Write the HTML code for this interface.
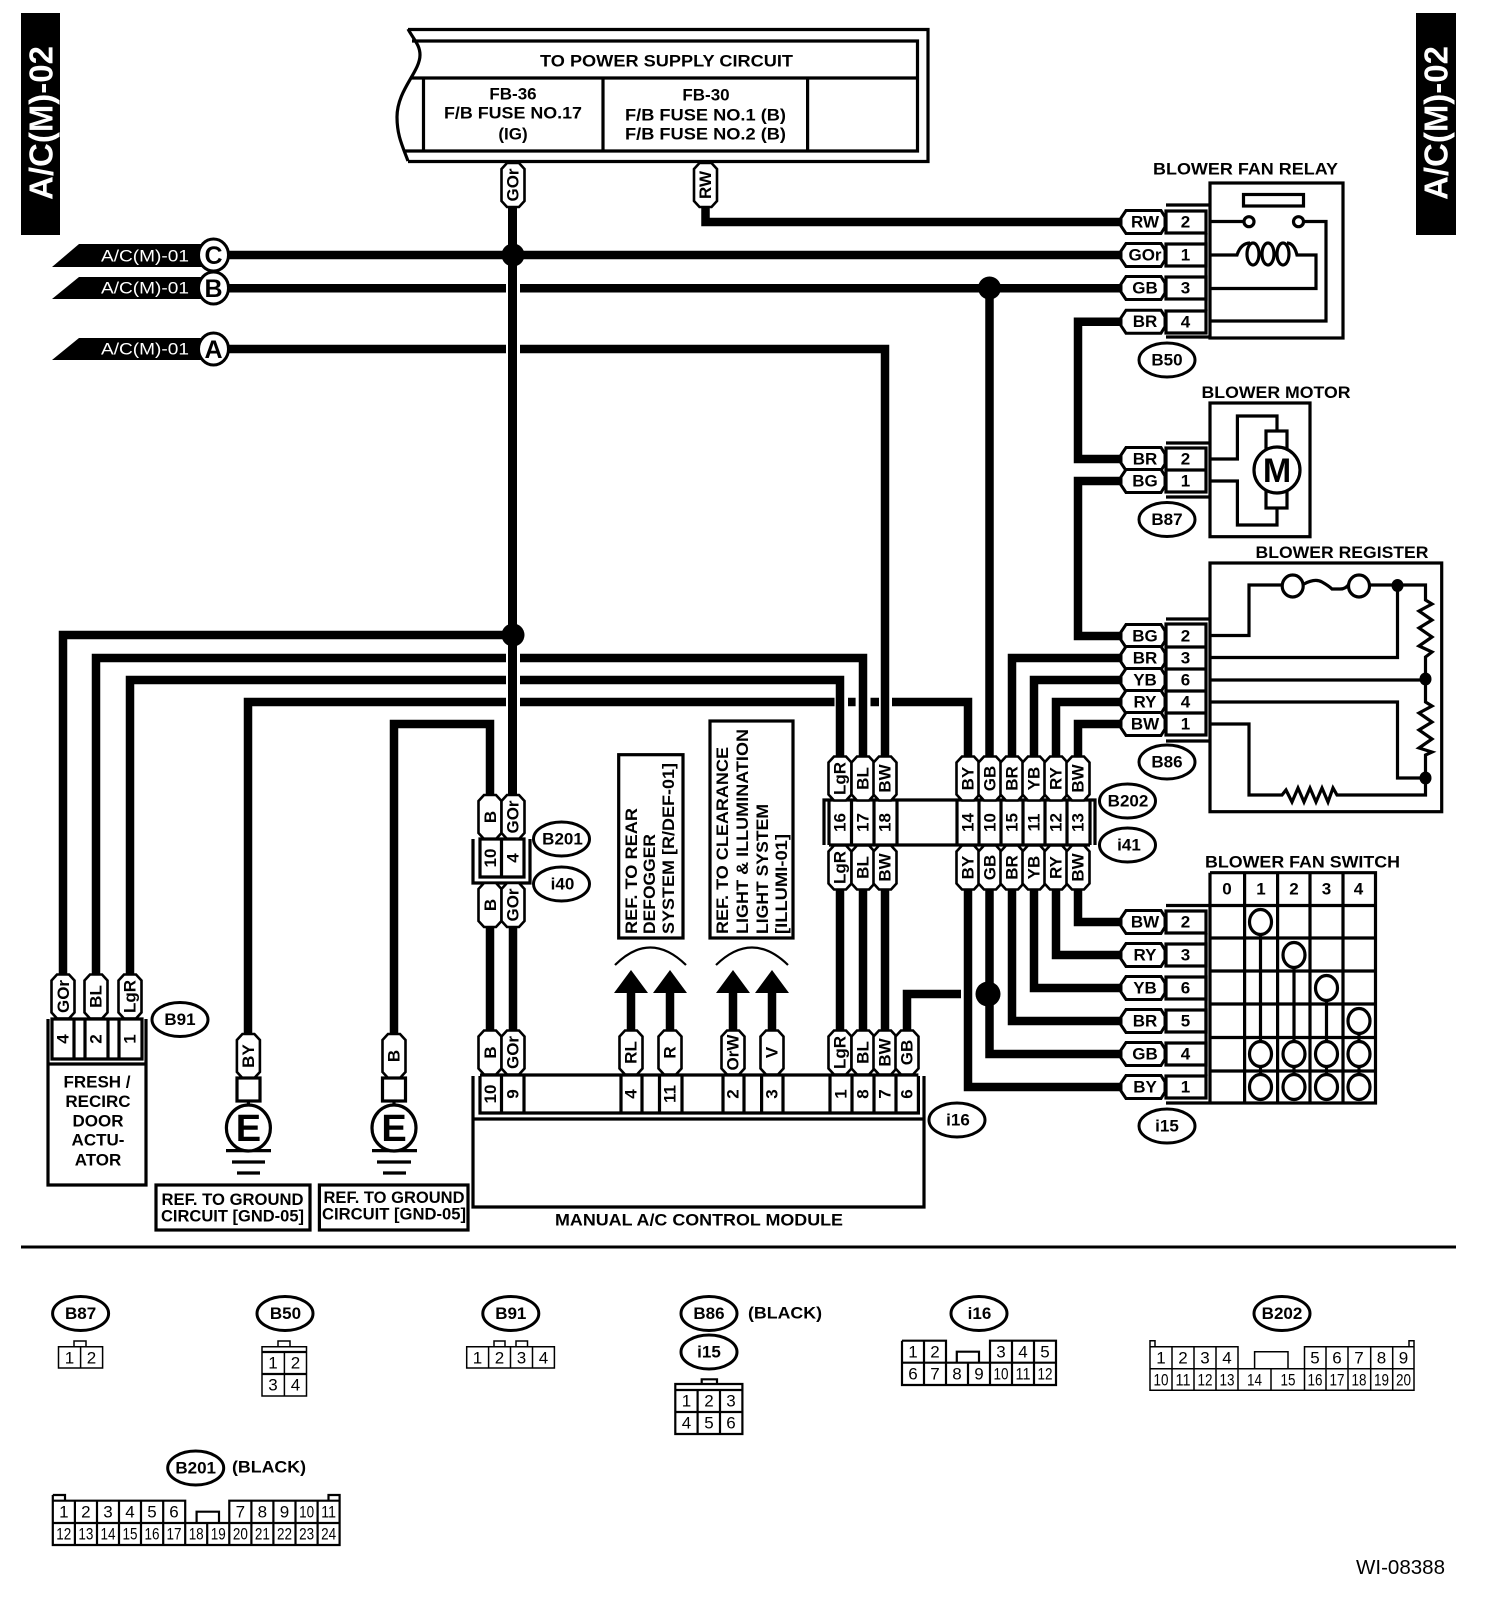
<!DOCTYPE html>
<html><head><meta charset="utf-8"><title>A/C(M)-02 wiring diagram</title>
<style>
html,body{margin:0;padding:0;background:#fff}
svg{display:block}
text{font-family:"Liberation Sans",sans-serif;fill:#000;font-size:17px}
.b{font-weight:bold}
.m{text-anchor:middle;dominant-baseline:central}
.w{fill:#fff}
.wire{fill:none;stroke:#000;stroke-width:8.5;stroke-linejoin:miter}
.l{fill:none;stroke:#000;stroke-width:3.2;stroke-linejoin:miter}
.t{fill:none;stroke:#000;stroke-width:1.5}
.g{fill:none;stroke:#000;stroke-width:2.2}
.f{fill:#fff;stroke:#000;stroke-width:3.2}
.ov{fill:#fff;stroke:#000;stroke-width:3}
.d{font-size:17px;font-weight:normal}
</style></head><body>
<svg width="1504" height="1610" viewBox="0 0 1504 1610" xmlns="http://www.w3.org/2000/svg">
<defs>
<path id="h" d="M-17-11.5H18L22-5V5L18 11.5H-17L-22 4V-4Z" fill="#fff" stroke="#000" stroke-width="3"/>
<path id="v" d="M-6-22H6L11.5-16V16L6 22H-6L-11.5 16V-16Z" fill="#fff" stroke="#000" stroke-width="2.6"/>
</defs>
<rect width="1504" height="1610" fill="#fff"/>

<!-- side bars -->
<rect x="21" y="13" width="39" height="222" fill="#000"/>
<rect x="1416" y="13" width="40" height="222" fill="#000"/>
<text class="b m w" style="font-size:33px" transform="translate(41,123) rotate(-90)" textLength="154" lengthAdjust="spacingAndGlyphs">A/C(M)-02</text>
<text class="b m w" style="font-size:33px" transform="translate(1436,123) rotate(-90)" textLength="154" lengthAdjust="spacingAndGlyphs">A/C(M)-02</text>

<!-- header box -->
<path class="l" d="M408 29.5H928V161.5H408"/>
<path class="l" d="M408 29C414 40 420 45 420 55C420 72 397 90 397 117C397 135 402 145 408 161"/>
<path class="l" d="M412 41H917.5V151H405M410 78H917.5M423.5 78V151M603 78V151M807.6 78V151"/>
<text class="b m" x="666.5" y="61" textLength="253" lengthAdjust="spacingAndGlyphs">TO POWER SUPPLY CIRCUIT</text>
<text class="b m" x="513" y="94">FB-36</text>
<text class="b m" x="513" y="113" textLength="138" lengthAdjust="spacingAndGlyphs">F/B FUSE NO.17</text>
<text class="b m" x="513" y="134">(IG)</text>
<text class="b m" x="706" y="95">FB-30</text>
<text class="b m" x="705.5" y="115" textLength="161" lengthAdjust="spacingAndGlyphs">F/B FUSE NO.1 (B)</text>
<text class="b m" x="705.5" y="134" textLength="161" lengthAdjust="spacingAndGlyphs">F/B FUSE NO.2 (B)</text>

<!-- wires -->
<path class="wire" d="M218 255H1121M218 288.3H506M520 288.3H1121M218 349H506M520 349H885V757"/>
<path class="wire" style="stroke-width:9" d="M512.5 207V795"/>
<path class="wire" d="M705.5 207V222H1121M989.5 288V757"/>
<path class="wire" d="M1121 321.7H1078V459H1121M1121 481H1078V636H1121M1121 658H1012V757M1121 680H1034V757M1121 702H1056V757M1121 724H1078V757"/>
<path class="wire" d="M513 635H63V974M506 658H96V974M520 658H863V757M506 680H130V974M520 680H840V757M506 702H248V1034M520 702H834.5M848 702H855.6M870.5 702H879M892 702H968V757"/>
<path class="wire" d="M394 1034V724H490V795M490 926V1031M513 926V1031"/>
<path class="wire" d="M840 890V1032M863 890V1032M885 890V1032M907 1032V994H961"/>
<path class="wire" d="M968 890V1087H1121M989.5 890V1054H1121M1012 890V1021H1121M1034 890V988H1121M1056 890V955H1121M1078 890V922H1121"/>
<path class="wire" d="M631 990V1031M670 990V1031M733 990V1031M772 990V1031"/>
<circle cx="513" cy="255" r="11.5"/><circle cx="513" cy="635" r="11.5"/><circle cx="989.5" cy="288" r="11.5"/><circle cx="988" cy="994" r="12.5"/>

<!-- arrows -->
<path d="M631 970L648 993H614Z"/><path d="M670 970L687 993H653Z"/><path d="M733 970L750 993H716Z"/><path d="M772 970L789 993H755Z"/>
<path class="g" d="M615 965Q650 930 686 965M716 965Q752 930 788 965"/>

<!-- off-page pointers -->
<path d="M52 267L79 244H205V267Z"/><path d="M52 299L79 277H205V299Z"/><path d="M52 360L79 338H205V360Z"/>
<text class="m w" x="145" y="256" textLength="88" lengthAdjust="spacingAndGlyphs">A/C(M)-01</text>
<text class="m w" x="145" y="288" textLength="88" lengthAdjust="spacingAndGlyphs">A/C(M)-01</text>
<text class="m w" x="145" y="349" textLength="88" lengthAdjust="spacingAndGlyphs">A/C(M)-01</text>
<ellipse class="ov" cx="213.5" cy="255" rx="15" ry="16"/><ellipse class="ov" cx="213.5" cy="288" rx="15" ry="16"/><ellipse class="ov" cx="213.5" cy="349" rx="15" ry="16"/>
<text class="b m" style="font-size:25px" x="213.5" y="256">C</text>
<text class="b m" style="font-size:25px" x="213.5" y="289">B</text>
<text class="b m" style="font-size:25px" x="213.5" y="350">A</text>

<!-- vertical tags upper -->
<use href="#v" x="513" y="185"/><text class="b m" transform="translate(513,185) rotate(-90)">GOr</text>
<use href="#v" x="705.5" y="185"/><text class="b m" transform="translate(705.5,185) rotate(-90)">RW</text>

<!-- blower fan relay -->
<text class="b m" x="1245.5" y="169" textLength="185" lengthAdjust="spacingAndGlyphs">BLOWER FAN RELAY</text>
<rect class="l" x="1210" y="183" width="133" height="155"/>
<path class="l" d="M1166 205H1210M1166 337H1210"/>
<rect class="f" x="1166" y="211" width="40" height="22"/><rect class="f" x="1166" y="244" width="40" height="22"/><rect class="f" x="1166" y="277" width="40" height="22"/><rect class="f" x="1166" y="311" width="40" height="22"/>
<path class="l" d="M1206 233V311"/>
<rect class="l" x="1243.5" y="194.5" width="60" height="11.5"/>
<path class="l" d="M1210 221.5H1244M1304 221.5H1326V321H1210M1210 255H1237Q1241 243 1250 243M1287 243Q1294 243 1297 255H1316V288.5H1210"/>
<circle class="f" cx="1249" cy="221.7" r="5"/><circle class="f" cx="1298.5" cy="221.7" r="5"/>
<ellipse class="l" cx="1253" cy="254" rx="6" ry="11"/><ellipse class="l" cx="1268" cy="254" rx="6" ry="11"/><ellipse class="l" cx="1283" cy="254" rx="6" ry="11"/>
<use href="#h" x="1143" y="222"/><text class="b m" x="1145" y="222">RW</text>
<use href="#h" x="1143" y="255"/><text class="b m" x="1145" y="255">GOr</text>
<use href="#h" x="1143" y="288"/><text class="b m" x="1145" y="288">GB</text>
<use href="#h" x="1143" y="321.7"/><text class="b m" x="1145" y="321.7">BR</text>
<text class="b m" x="1185.5" y="222">2</text><text class="b m" x="1185.5" y="255">1</text><text class="b m" x="1185.5" y="288">3</text><text class="b m" x="1185.5" y="322">4</text>
<ellipse class="ov" cx="1167" cy="360" rx="28" ry="17"/><text class="b m" x="1167" y="360">B50</text>

<!-- blower motor -->
<text class="b m" x="1276" y="392.7" textLength="149" lengthAdjust="spacingAndGlyphs">BLOWER MOTOR</text>
<rect class="l" x="1210" y="403" width="100" height="133.7"/>
<path class="l" d="M1166 443H1210M1166 497H1210"/>
<rect class="f" x="1166" y="448" width="40" height="44"/><path class="l" d="M1166 470H1206"/>
<path class="l" d="M1210 459H1237.4V416H1277V431M1210 481H1237.4V525H1277V508"/>
<rect class="f" x="1266" y="431" width="21" height="77"/>
<circle class="f" cx="1277" cy="470" r="23"/>
<text class="b m" style="font-size:34px" x="1277" y="471">M</text>
<use href="#h" x="1143" y="459"/><text class="b m" x="1145" y="459">BR</text>
<use href="#h" x="1143" y="481"/><text class="b m" x="1145" y="481">BG</text>
<text class="b m" x="1185.5" y="459">2</text><text class="b m" x="1185.5" y="481">1</text>
<ellipse class="ov" cx="1167" cy="519.5" rx="28" ry="17"/><text class="b m" x="1167" y="519.5">B87</text>

<!-- blower register -->
<text class="b m" x="1342" y="552.7" textLength="173" lengthAdjust="spacingAndGlyphs">BLOWER REGISTER</text>
<rect class="l" x="1210" y="563" width="231.7" height="248.7"/>
<path class="l" d="M1166 619H1210M1166 741H1210"/>
<rect class="f" x="1166" y="624" width="40" height="111"/>
<path class="l" d="M1166 647H1206M1166 669H1206M1166 691H1206M1166 713H1206"/>
<path class="l" d="M1210 635.5H1249V585H1282M1304 584Q1315 578 1322 582T1332 589H1340Q1346 589 1349 584M1370 585H1425.5V600L1432 604L1419 611L1432 620L1419 628L1432 637L1419 646L1432 652L1425.5 657V702L1432 706L1419 713L1432 722L1419 730L1432 739L1419 748L1432 752L1425.5 755V795H1337L1333 788L1328 802L1322 788L1316 802L1310 788L1304 802L1298 788L1292 802L1286 790L1282 795H1249V724H1210"/>
<path class="l" d="M1210 657.5H1397.5V586M1210 680H1425M1210 702H1397.5V778H1425"/>
<ellipse class="f" cx="1292.7" cy="586" rx="10.5" ry="11"/><ellipse class="f" cx="1359" cy="586" rx="10.5" ry="11"/>
<ellipse cx="1397.5" cy="585.5" rx="6" ry="6.5"/><ellipse cx="1425.5" cy="679" rx="6" ry="6.5"/><ellipse cx="1425.5" cy="778" rx="6" ry="6.5"/>
<use href="#h" x="1143" y="636"/><text class="b m" x="1145" y="636">BG</text>
<use href="#h" x="1143" y="658"/><text class="b m" x="1145" y="658">BR</text>
<use href="#h" x="1143" y="680"/><text class="b m" x="1145" y="680">YB</text>
<use href="#h" x="1143" y="702"/><text class="b m" x="1145" y="702">RY</text>
<use href="#h" x="1143" y="724"/><text class="b m" x="1145" y="724">BW</text>
<text class="b m" x="1185.5" y="636">2</text><text class="b m" x="1185.5" y="658">3</text><text class="b m" x="1185.5" y="680">6</text><text class="b m" x="1185.5" y="702">4</text><text class="b m" x="1185.5" y="724">1</text>
<ellipse class="ov" cx="1167" cy="762" rx="28" ry="17"/><text class="b m" x="1167" y="762">B86</text>

<!-- B202 / i41 -->
<path class="l" d="M824 845V800H1095V845M829 800V845M1090 800V845M829 845H1090"/>
<path class="l" d="M851.5 800V845M874 800V845M897 800V845M957 800V845M979 800V845M1001 800V845M1023 800V845M1045 800V845M1067 800V845"/>
<use href="#v" x="840" y="778.5"/><text class="b m" transform="translate(840,778.5) rotate(-90)">LgR</text>
<use href="#v" x="863" y="778.5"/><text class="b m" transform="translate(863,778.5) rotate(-90)">BL</text>
<use href="#v" x="885" y="778.5"/><text class="b m" transform="translate(885,778.5) rotate(-90)">BW</text>
<use href="#v" x="968" y="778.5"/><text class="b m" transform="translate(968,778.5) rotate(-90)">BY</text>
<use href="#v" x="990" y="778.5"/><text class="b m" transform="translate(990,778.5) rotate(-90)">GB</text>
<use href="#v" x="1012" y="778.5"/><text class="b m" transform="translate(1012,778.5) rotate(-90)">BR</text>
<use href="#v" x="1034" y="778.5"/><text class="b m" transform="translate(1034,778.5) rotate(-90)">YB</text>
<use href="#v" x="1056" y="778.5"/><text class="b m" transform="translate(1056,778.5) rotate(-90)">RY</text>
<use href="#v" x="1078" y="778.5"/><text class="b m" transform="translate(1078,778.5) rotate(-90)">BW</text>
<text class="b m" transform="translate(840,822.5) rotate(-90)">16</text>
<text class="b m" transform="translate(863,822.5) rotate(-90)">17</text>
<text class="b m" transform="translate(885,822.5) rotate(-90)">18</text>
<text class="b m" transform="translate(968,822.5) rotate(-90)">14</text>
<text class="b m" transform="translate(990,822.5) rotate(-90)">10</text>
<text class="b m" transform="translate(1012,822.5) rotate(-90)">15</text>
<text class="b m" transform="translate(1034,822.5) rotate(-90)">11</text>
<text class="b m" transform="translate(1056,822.5) rotate(-90)">12</text>
<text class="b m" transform="translate(1078,822.5) rotate(-90)">13</text>
<use href="#v" x="840" y="867.5"/><text class="b m" transform="translate(840,867.5) rotate(-90)">LgR</text>
<use href="#v" x="863" y="867.5"/><text class="b m" transform="translate(863,867.5) rotate(-90)">BL</text>
<use href="#v" x="885" y="867.5"/><text class="b m" transform="translate(885,867.5) rotate(-90)">BW</text>
<use href="#v" x="968" y="867.5"/><text class="b m" transform="translate(968,867.5) rotate(-90)">BY</text>
<use href="#v" x="990" y="867.5"/><text class="b m" transform="translate(990,867.5) rotate(-90)">GB</text>
<use href="#v" x="1012" y="867.5"/><text class="b m" transform="translate(1012,867.5) rotate(-90)">BR</text>
<use href="#v" x="1034" y="867.5"/><text class="b m" transform="translate(1034,867.5) rotate(-90)">YB</text>
<use href="#v" x="1056" y="867.5"/><text class="b m" transform="translate(1056,867.5) rotate(-90)">RY</text>
<use href="#v" x="1078" y="867.5"/><text class="b m" transform="translate(1078,867.5) rotate(-90)">BW</text>
<ellipse class="ov" cx="1127.5" cy="801" rx="28" ry="17"/><text class="b m" x="1128" y="801">B202</text>
<ellipse class="ov" cx="1127.5" cy="845" rx="28" ry="17"/><text class="b m" x="1129" y="845">i41</text>

<!-- blower fan switch -->
<text class="b m" x="1302.5" y="862" textLength="195" lengthAdjust="spacingAndGlyphs">BLOWER FAN SWITCH</text>
<path class="l" d="M1210 872.7H1375.5V1103H1166M1210 872.7V1103M1244.6 872.7V1103M1277.6 872.7V1103M1310 872.7V1103M1343 872.7V1103M1166 905.5H1375.5M1210 938H1375.5M1210 971H1375.5M1210 1004H1375.5M1210 1037.5H1375.5M1210 1071H1375.5"/>
<path class="l" d="M1260.5 922V1087M1294 955V1087M1326.5 988V1087M1359 1021V1087"/>
<text class="b m" x="1227" y="889">0</text><text class="b m" x="1261" y="889">1</text><text class="b m" x="1294" y="889">2</text><text class="b m" x="1326.5" y="889">3</text><text class="b m" x="1358.5" y="889">4</text>
<g class="f">
<ellipse cx="1260.5" cy="922" rx="11" ry="12.5"/><ellipse cx="1294" cy="955" rx="11" ry="12.5"/><ellipse cx="1326.5" cy="988" rx="11" ry="12.5"/><ellipse cx="1359" cy="1021" rx="11" ry="12.5"/>
<ellipse cx="1260.5" cy="1054" rx="11" ry="12.5"/><ellipse cx="1294" cy="1054" rx="11" ry="12.5"/><ellipse cx="1326.5" cy="1054" rx="11" ry="12.5"/><ellipse cx="1359" cy="1054" rx="11" ry="12.5"/>
<ellipse cx="1260.5" cy="1087" rx="11" ry="12.5"/><ellipse cx="1294" cy="1087" rx="11" ry="12.5"/><ellipse cx="1326.5" cy="1087" rx="11" ry="12.5"/><ellipse cx="1359" cy="1087" rx="11" ry="12.5"/>
</g>
<rect class="f" x="1166" y="911" width="40" height="22"/><rect class="f" x="1166" y="944" width="40" height="22"/><rect class="f" x="1166" y="977" width="40" height="22"/><rect class="f" x="1166" y="1010" width="40" height="22"/><rect class="f" x="1166" y="1043" width="40" height="22"/><rect class="f" x="1166" y="1076" width="40" height="22"/>
<path class="l" d="M1206 933V1076"/>
<use href="#h" x="1143" y="922"/><text class="b m" x="1145" y="922">BW</text>
<use href="#h" x="1143" y="955"/><text class="b m" x="1145" y="955">RY</text>
<use href="#h" x="1143" y="988"/><text class="b m" x="1145" y="988">YB</text>
<use href="#h" x="1143" y="1021"/><text class="b m" x="1145" y="1021">BR</text>
<use href="#h" x="1143" y="1054"/><text class="b m" x="1145" y="1054">GB</text>
<use href="#h" x="1143" y="1087"/><text class="b m" x="1145" y="1087">BY</text>
<text class="b m" x="1185.5" y="922">2</text><text class="b m" x="1185.5" y="955">3</text><text class="b m" x="1185.5" y="988">6</text><text class="b m" x="1185.5" y="1021">5</text><text class="b m" x="1185.5" y="1054">4</text><text class="b m" x="1185.5" y="1087">1</text>
<ellipse class="ov" cx="1167" cy="1126" rx="28" ry="17"/><text class="b m" x="1167" y="1126">i15</text>

<!-- B91 actuator -->
<use href="#v" x="63" y="996.5"/><text class="b m" transform="translate(63.5,996.5) rotate(-90)">GOr</text>
<use href="#v" x="96" y="996.5"/><text class="b m" transform="translate(96,996.5) rotate(-90)">BL</text>
<use href="#v" x="130" y="996.5"/><text class="b m" transform="translate(130,996.5) rotate(-90)">LgR</text>
<path class="l" d="M48 1019V1185H146V1019M48 1064H146M52 1019H142V1059H52ZM74 1019V1059M85 1019V1059M108 1019V1059M119 1019V1059"/>
<text class="b m" transform="translate(63,1039) rotate(-90)">4</text><text class="b m" transform="translate(96,1039) rotate(-90)">2</text><text class="b m" transform="translate(130,1039) rotate(-90)">1</text>
<ellipse class="ov" cx="180" cy="1019.5" rx="28" ry="17"/><text class="b m" x="180" y="1019.5">B91</text>
<text class="b m" x="97" y="1082">FRESH /</text><text class="b m" x="98" y="1101.6">RECIRC</text><text class="b m" x="98" y="1121">DOOR</text><text class="b m" x="98" y="1140">ACTU-</text><text class="b m" x="98" y="1160">ATOR</text>

<!-- grounds -->
<use href="#v" x="248.4" y="1056"/><text class="b m" transform="translate(248.4,1056) rotate(-90)">BY</text>
<rect class="f" x="237" y="1078" width="23" height="23"/>
<path class="l" d="M248.4 1101V1110M226 1150.6H271M232 1162H265M237 1173H260"/>
<ellipse class="f" cx="248.4" cy="1128" rx="22" ry="23"/>
<text class="b m" style="font-size:38px" x="248.4" y="1129">E</text>
<use href="#v" x="394" y="1056"/><text class="b m" transform="translate(394,1056) rotate(-90)">B</text>
<rect class="f" x="382.5" y="1078" width="23" height="23"/>
<path class="l" d="M394 1101V1110M372 1150.6H417M377 1162H411M383 1173H406"/>
<ellipse class="f" cx="394" cy="1128" rx="22" ry="23"/>
<text class="b m" style="font-size:38px" x="394" y="1129">E</text>
<rect class="l" x="156" y="1185" width="154" height="45"/>
<text class="b m" x="232.5" y="1199.6" textLength="142" lengthAdjust="spacingAndGlyphs">REF. TO GROUND</text>
<text class="b m" x="232.5" y="1216" textLength="143" lengthAdjust="spacingAndGlyphs">CIRCUIT [GND-05]</text>
<rect class="l" x="319.4" y="1185" width="148.6" height="45"/>
<text class="b m" x="394" y="1197.6" textLength="141" lengthAdjust="spacingAndGlyphs">REF. TO GROUND</text>
<text class="b m" x="394" y="1214" textLength="144" lengthAdjust="spacingAndGlyphs">CIRCUIT [GND-05]</text>

<!-- B201 / i40 -->
<use href="#v" x="490" y="817"/><text class="b m" transform="translate(490.5,817) rotate(-90)">B</text>
<use href="#v" x="513" y="817"/><text class="b m" transform="translate(513,817) rotate(-90)">GOr</text>
<path class="l" d="M473 839V883H530V839M480 839H524V877H480ZM501.5 839V877"/>
<text class="b m" transform="translate(490.5,858) rotate(-90)">10</text><text class="b m" transform="translate(513,858) rotate(-90)">4</text>
<use href="#v" x="490" y="905"/><text class="b m" transform="translate(490.5,905) rotate(-90)">B</text>
<use href="#v" x="513" y="905"/><text class="b m" transform="translate(513,905) rotate(-90)">GOr</text>
<ellipse class="ov" cx="561.5" cy="839" rx="28" ry="17"/><text class="b m" x="562.5" y="839">B201</text>
<ellipse class="ov" cx="561.5" cy="884" rx="28" ry="17"/><text class="b m" x="562.5" y="884">i40</text>

<!-- REF boxes -->
<rect class="l" x="618.7" y="754.7" width="64.3" height="183.3"/>
<text class="b" transform="translate(637,934) rotate(-90)" textLength="126" lengthAdjust="spacingAndGlyphs">REF. TO REAR</text>
<text class="b" transform="translate(655,934) rotate(-90)" textLength="100" lengthAdjust="spacingAndGlyphs">DEFOGGER</text>
<text class="b" transform="translate(674,934) rotate(-90)" textLength="171" lengthAdjust="spacingAndGlyphs">SYSTEM [R/DEF-01]</text>
<rect class="l" x="710" y="721" width="83" height="217"/>
<text class="b" transform="translate(728,934) rotate(-90)" textLength="187" lengthAdjust="spacingAndGlyphs">REF. TO CLEARANCE</text>
<text class="b" transform="translate(748,934) rotate(-90)" textLength="205" lengthAdjust="spacingAndGlyphs">LIGHT &amp; ILLUMINATION</text>
<text class="b" transform="translate(768,934) rotate(-90)" textLength="130" lengthAdjust="spacingAndGlyphs">LIGHT SYSTEM</text>
<text class="b" transform="translate(787,934) rotate(-90)" textLength="100" lengthAdjust="spacingAndGlyphs">[ILLUMI-01]</text>

<!-- control module -->
<path class="l" d="M473 1076V1207H924V1076M473 1119H924M480 1076V1113H918.4V1076M480 1075H918.4"/>
<path class="l" d="M501.5 1076V1113M524 1076V1113M621 1076V1113M642 1076V1113M659.5 1076V1113M682 1076V1113M723 1076V1113M744 1076V1113M761.6 1076V1113M783 1076V1113M830 1076V1113M852 1076V1113M874 1076V1113M896 1076V1113"/>
<use href="#v" x="490" y="1052.5"/><text class="b m" transform="translate(490.5,1052.5) rotate(-90)">B</text>
<use href="#v" x="513" y="1052.5"/><text class="b m" transform="translate(513,1052.5) rotate(-90)">GOr</text>
<use href="#v" x="631" y="1052.5"/><text class="b m" transform="translate(631,1052.5) rotate(-90)">RL</text>
<use href="#v" x="670" y="1052.5"/><text class="b m" transform="translate(670,1052.5) rotate(-90)">R</text>
<use href="#v" x="733" y="1052.5"/><text class="b m" transform="translate(733,1052.5) rotate(-90)">OrW</text>
<use href="#v" x="772" y="1052.5"/><text class="b m" transform="translate(772,1052.5) rotate(-90)">V</text>
<use href="#v" x="840" y="1052.5"/><text class="b m" transform="translate(840,1052.5) rotate(-90)">LgR</text>
<use href="#v" x="863" y="1052.5"/><text class="b m" transform="translate(863,1052.5) rotate(-90)">BL</text>
<use href="#v" x="885" y="1052.5"/><text class="b m" transform="translate(885,1052.5) rotate(-90)">BW</text>
<use href="#v" x="907" y="1052.5"/><text class="b m" transform="translate(907,1052.5) rotate(-90)">GB</text>
<text class="b m" transform="translate(490.5,1094) rotate(-90)">10</text>
<text class="b m" transform="translate(513,1094) rotate(-90)">9</text>
<text class="b m" transform="translate(631,1094) rotate(-90)">4</text>
<text class="b m" transform="translate(670,1094) rotate(-90)">11</text>
<text class="b m" transform="translate(733,1094) rotate(-90)">2</text>
<text class="b m" transform="translate(772,1094) rotate(-90)">3</text>
<text class="b m" transform="translate(841,1094) rotate(-90)">1</text>
<text class="b m" transform="translate(863,1094) rotate(-90)">8</text>
<text class="b m" transform="translate(885,1094) rotate(-90)">7</text>
<text class="b m" transform="translate(907,1094) rotate(-90)">6</text>
<ellipse class="ov" cx="957" cy="1120" rx="28" ry="17"/><text class="b m" x="958" y="1120">i16</text>
<text class="b m" x="699" y="1220" textLength="288" lengthAdjust="spacingAndGlyphs">MANUAL A/C CONTROL MODULE</text>

<rect x="21" y="1245.5" width="1435" height="3"/>

<!-- bottom connector views -->
<ellipse class="ov" cx="80.6" cy="1313.5" rx="28" ry="17"/><text class="b m" x="80.6" y="1313.5">B87</text>
<path class="t" d="M58.5 1346.7H102.6V1368H58.5ZM80.6 1346.7V1368M74 1346.7V1341H86V1346.7"/>
<text class="d m" x="69.5" y="1358">1</text><text class="d m" x="91.5" y="1358">2</text>

<ellipse class="ov" cx="285" cy="1313.5" rx="28" ry="17"/><text class="b m" x="285.5" y="1313.5">B50</text>
<path class="t" d="M262 1346.7H306.5V1396H262ZM278 1346.7V1341H290V1346.7M284.4 1352V1396"/>
<path class="g" d="M262 1352H306.5M262 1374H306.5"/>
<text class="d m" x="273" y="1363">1</text><text class="d m" x="295.5" y="1363">2</text><text class="d m" x="273" y="1385">3</text><text class="d m" x="295.5" y="1385">4</text>

<ellipse class="ov" cx="510.8" cy="1313.5" rx="28" ry="17"/><text class="b m" x="510.8" y="1313.5">B91</text>
<path class="t" d="M466.7 1346.7H554.4V1368H466.7ZM488.6 1346.7V1368M510.5 1346.7V1368M532.5 1346.7V1368M494 1346.7V1341H505V1346.7M516 1346.7V1341H527.5V1346.7"/>
<text class="d m" x="477.5" y="1358">1</text><text class="d m" x="499.5" y="1358">2</text><text class="d m" x="521.5" y="1358">3</text><text class="d m" x="543.5" y="1358">4</text>

<ellipse class="ov" cx="709" cy="1313.5" rx="28" ry="17"/><text class="b m" x="709" y="1313.5">B86</text>
<text class="b m" x="785" y="1313" textLength="74" lengthAdjust="spacingAndGlyphs">(BLACK)</text>
<ellipse class="ov" cx="709" cy="1352" rx="28" ry="17"/><text class="b m" x="709" y="1352">i15</text>
<path class="g" d="M675.3 1384H742.4V1434H675.3ZM675.3 1390H742.4M675.3 1412H742.4M697.6 1390V1434M720 1390V1434M701.7 1384V1379.3H717V1384"/>
<text class="d m" x="686.5" y="1401">1</text><text class="d m" x="709" y="1401">2</text><text class="d m" x="731" y="1401">3</text><text class="d m" x="686.5" y="1423">4</text><text class="d m" x="709" y="1423">5</text><text class="d m" x="731" y="1423">6</text>

<ellipse class="ov" cx="195.7" cy="1468" rx="28" ry="17"/><text class="b m" x="195.7" y="1468">B201</text>
<text class="b m" x="269" y="1467" textLength="74" lengthAdjust="spacingAndGlyphs">(BLACK)</text>
<path class="g" d="M52.8 1495H65V1500.7M328.5 1500.7V1495H339.6V1545H52.8V1495M52.8 1500.7H185.2V1523M229.3 1523V1500.7H339.6M52.8 1523H339.6M196.6 1523V1511.7H219V1523"/>
<path class="g" d="M74.9 1500.7V1545M97 1500.7V1545M119 1500.7V1545M141 1500.7V1545M163.2 1500.7V1545M207.2 1523V1545M251.4 1500.7V1545M273.4 1500.7V1545M295.5 1500.7V1545M317.6 1500.7V1545M185.2 1523V1545M229.3 1523V1545"/>
<text class="d m" x="63.8" y="1512">1</text><text class="d m" x="85.9" y="1512">2</text><text class="d m" x="108" y="1512">3</text><text class="d m" x="130" y="1512">4</text><text class="d m" x="152" y="1512">5</text><text class="d m" x="174" y="1512">6</text>
<text class="d m" x="240.4" y="1512">7</text><text class="d m" x="262.4" y="1512">8</text><text class="d m" x="284.5" y="1512">9</text><text class="d m" x="306.6" y="1512" textLength="15" lengthAdjust="spacingAndGlyphs">10</text><text class="d m" x="328.6" y="1512" textLength="15" lengthAdjust="spacingAndGlyphs">11</text>
<text class="d m" x="63.8" y="1534" textLength="15" lengthAdjust="spacingAndGlyphs">12</text><text class="d m" x="85.9" y="1534" textLength="15" lengthAdjust="spacingAndGlyphs">13</text><text class="d m" x="108" y="1534" textLength="15" lengthAdjust="spacingAndGlyphs">14</text><text class="d m" x="130" y="1534" textLength="15" lengthAdjust="spacingAndGlyphs">15</text><text class="d m" x="152" y="1534" textLength="15" lengthAdjust="spacingAndGlyphs">16</text><text class="d m" x="174" y="1534" textLength="15" lengthAdjust="spacingAndGlyphs">17</text><text class="d m" x="196.2" y="1534" textLength="15" lengthAdjust="spacingAndGlyphs">18</text><text class="d m" x="218.3" y="1534" textLength="15" lengthAdjust="spacingAndGlyphs">19</text><text class="d m" x="240.4" y="1534" textLength="15" lengthAdjust="spacingAndGlyphs">20</text><text class="d m" x="262.4" y="1534" textLength="15" lengthAdjust="spacingAndGlyphs">21</text><text class="d m" x="284.5" y="1534" textLength="15" lengthAdjust="spacingAndGlyphs">22</text><text class="d m" x="306.6" y="1534" textLength="15" lengthAdjust="spacingAndGlyphs">23</text><text class="d m" x="328.6" y="1534" textLength="15" lengthAdjust="spacingAndGlyphs">24</text>

<ellipse class="ov" cx="979" cy="1313.5" rx="28" ry="17"/><text class="b m" x="979.5" y="1313.5">i16</text>
<path class="g" d="M902 1340.7H946V1362.7M990 1362.7V1340.7H1056V1385H902V1340.7M902 1362.7H1056M956.8 1362.7V1351.7H979V1362.7"/>
<path class="g" d="M924 1340.7V1385M946 1362.7V1385M968 1362.7V1385M990 1362.7V1385M1012 1340.7V1385M1034 1340.7V1385"/>
<text class="d m" x="913" y="1352">1</text><text class="d m" x="935" y="1352">2</text><text class="d m" x="1001" y="1352">3</text><text class="d m" x="1023" y="1352">4</text><text class="d m" x="1045" y="1352">5</text>
<text class="d m" x="913" y="1374">6</text><text class="d m" x="935" y="1374">7</text><text class="d m" x="957" y="1374">8</text><text class="d m" x="979" y="1374">9</text><text class="d m" x="1001" y="1374" textLength="15" lengthAdjust="spacingAndGlyphs">10</text><text class="d m" x="1023" y="1374" textLength="15" lengthAdjust="spacingAndGlyphs">11</text><text class="d m" x="1045" y="1374" textLength="15" lengthAdjust="spacingAndGlyphs">12</text>

<ellipse class="ov" cx="1282" cy="1313.5" rx="28" ry="17"/><text class="b m" x="1282" y="1313.5">B202</text>
<path class="t" d="M1150 1346.7V1390.3H1414V1346.7M1150 1346.7H1238V1368.7M1304.5 1368.7V1346.7H1414M1150 1368.7H1414M1150 1346.7V1340.7H1155V1346.7M1409 1346.7V1340.7H1414V1346.7M1254.6 1368.7V1351.7H1288V1368.7"/>
<path class="t" d="M1172 1346.7V1390.3M1194 1346.7V1390.3M1216 1346.7V1390.3M1238 1368.7V1390.3M1271 1368.7V1390.3M1304.5 1368.7V1390.3M1326 1346.7V1390.3M1348 1346.7V1390.3M1370.7 1346.7V1390.3M1392.7 1346.7V1390.3"/>
<text class="d m" x="1161" y="1358">1</text><text class="d m" x="1183" y="1358">2</text><text class="d m" x="1205" y="1358">3</text><text class="d m" x="1227" y="1358">4</text>
<text class="d m" x="1315" y="1358">5</text><text class="d m" x="1337" y="1358">6</text><text class="d m" x="1359" y="1358">7</text><text class="d m" x="1381.5" y="1358">8</text><text class="d m" x="1403.5" y="1358">9</text>
<text class="d m" x="1161" y="1380" textLength="15" lengthAdjust="spacingAndGlyphs">10</text><text class="d m" x="1183" y="1380" textLength="15" lengthAdjust="spacingAndGlyphs">11</text><text class="d m" x="1205" y="1380" textLength="15" lengthAdjust="spacingAndGlyphs">12</text><text class="d m" x="1227" y="1380" textLength="15" lengthAdjust="spacingAndGlyphs">13</text><text class="d m" x="1254.5" y="1380" textLength="15" lengthAdjust="spacingAndGlyphs">14</text><text class="d m" x="1288" y="1380" textLength="15" lengthAdjust="spacingAndGlyphs">15</text><text class="d m" x="1315" y="1380" textLength="15" lengthAdjust="spacingAndGlyphs">16</text><text class="d m" x="1337" y="1380" textLength="15" lengthAdjust="spacingAndGlyphs">17</text><text class="d m" x="1359" y="1380" textLength="15" lengthAdjust="spacingAndGlyphs">18</text><text class="d m" x="1381.5" y="1380" textLength="15" lengthAdjust="spacingAndGlyphs">19</text><text class="d m" x="1403.5" y="1380" textLength="15" lengthAdjust="spacingAndGlyphs">20</text>

<text class="m" style="font-size:20px" x="1400.5" y="1568" textLength="89" lengthAdjust="spacingAndGlyphs">WI-08388</text>
</svg>
</body></html>
